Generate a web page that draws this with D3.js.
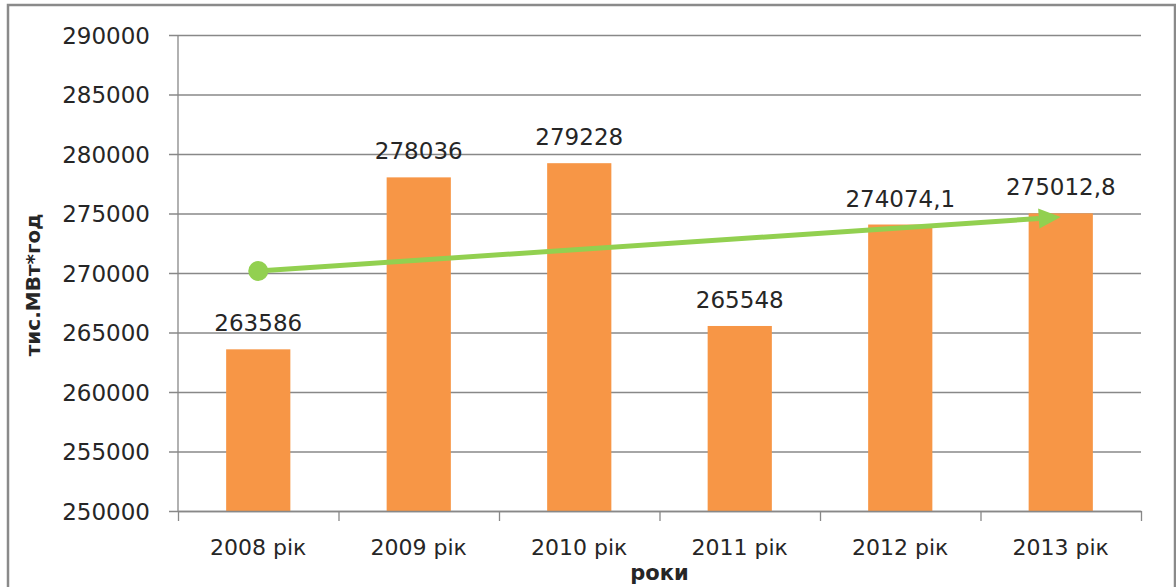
<!DOCTYPE html>
<html>
<head>
<meta charset="utf-8">
<script src="https://cdn.jsdelivr.net/npm/d3@7"></script>
<style>
  body { margin: 0; background: #fff; }
  text { font-family: "DejaVu Sans", sans-serif; fill: #262626; }
  .bar { fill: #F79646; }
  .grid line { stroke: #888; stroke-width: 1.3; }
</style>
</head>
<body>
<div id="graphic"></div>
<script>
var years = ["2008 рік", "2009 рік", "2010 рік", "2011 рік", "2012 рік", "2013 рік"];
var values = [263586, 278036, 279228, 265548, 274074.1, 275012.8];
var valueLabels = ["263586", "278036", "279228", "265548", "274074,1", "275012,8"];
var yTicks = [250000, 255000, 260000, 265000, 270000, 275000, 280000, 285000, 290000];
// hand drawn trend arrow
var trendYears = ["2008 рік", "2013 рік"];
var trendValues = [270170, 274700];

var width = 1176;
var height = 587;
var plotLeft = 178, plotRight = 1141, plotTop = 35, plotBottom = 511;

var svg = d3.select("#graphic")
  .append("svg")
  .attr("width", width)
  .attr("height", height);

var xScale = d3.scaleBand()
  .domain(years)
  .range([plotLeft, plotRight])
  .paddingInner(0.6)
  .paddingOuter(0.3);

var edgeScale = d3.scaleLinear()
  .domain([0, years.length])
  .range([plotLeft, plotRight]);

var yScale = d3.scaleLinear()
  .domain([250000, 290000])
  .range([plotBottom, plotTop]);

// outer frame
svg.append("rect")
  .attr("x", 8)
  .attr("y", 5)
  .attr("width", 1167)
  .attr("height", 600)
  .attr("fill", "none")
  .attr("stroke", "#8a8a8a")
  .attr("stroke-width", 2.5);

// grid + y labels
var yAxis = d3.axisLeft(yScale)
  .tickValues(yTicks)
  .tickSize(-(plotRight - plotLeft))
  .tickSizeOuter(0)
  .tickPadding(28)
  .tickFormat(d3.format("d"));

var gy = svg.append("g")
  .attr("class", "grid")
  .attr("transform", "translate(" + plotLeft + ",0)")
  .call(yAxis);
gy.select(".domain").remove();
gy.selectAll(".tick line").attr("x1", -9);
gy.selectAll(".tick text")
  .attr("font-size", 23)
  .attr("font-family", "DejaVu Sans")
  .attr("fill", "#262626")
  .attr("dy", "0.36em");

// y axis line
svg.append("line")
  .attr("x1", plotLeft).attr("x2", plotLeft)
  .attr("y1", plotTop).attr("y2", plotBottom)
  .attr("stroke", "#888").attr("stroke-width", 1.3);

// bars
svg.selectAll(".bar")
  .data(years)
  .enter()
  .append("rect")
  .attr("class", "bar")
  .attr("x", function(d) { return xScale(d); })
  .attr("width", xScale.bandwidth())
  .attr("y", function(d, i) { return yScale(values[i]); })
  .attr("height", function(d, i) { return plotBottom - yScale(values[i]); });

// x axis with ticks at band edges
var xAxis = d3.axisBottom(edgeScale)
  .tickValues(d3.range(years.length + 1))
  .tickSize(10)
  .tickSizeOuter(0)
  .tickFormat("");

var gx = svg.append("g")
  .attr("transform", "translate(0," + plotBottom + ")")
  .call(xAxis);
gx.select(".domain").attr("stroke", "#888").attr("stroke-width", 1.3);
gx.selectAll(".tick line").attr("stroke", "#888").attr("stroke-width", 1.3);

svg.selectAll(".xlabel")
  .data(years)
  .enter()
  .append("text")
  .attr("class", "xlabel")
  .attr("x", function(d) { return xScale(d) + xScale.bandwidth() / 2; })
  .attr("y", plotBottom + 44)
  .attr("text-anchor", "middle")
  .attr("font-size", 22)
  .text(function(d) { return d; });

// value labels
svg.selectAll(".vlabel")
  .data(years)
  .enter()
  .append("text")
  .attr("class", "vlabel")
  .attr("x", function(d) { return xScale(d) + xScale.bandwidth() / 2; })
  .attr("y", function(d, i) { return yScale(values[i]) - 18; })
  .attr("text-anchor", "middle")
  .attr("font-size", 23)
  .text(function(d, i) { return valueLabels[i]; });

// trend arrow
var tx = trendYears.map(function(d) { return xScale(d) + xScale.bandwidth() / 2; });
var ty = trendValues.map(function(d) { return yScale(d); });
var ang = Math.atan2(ty[1] - ty[0], tx[1] - tx[0]);
var headLen = 22, headHalf = 10;
var bx = tx[1] - headLen * Math.cos(ang), by = ty[1] - headLen * Math.sin(ang);

svg.append("line")
  .attr("x1", tx[0]).attr("y1", ty[0])
  .attr("x2", bx).attr("y2", by)
  .attr("stroke", "#92D050")
  .attr("stroke-width", 5);

svg.append("circle")
  .attr("cx", tx[0]).attr("cy", ty[0])
  .attr("r", 10)
  .attr("fill", "#92D050");

svg.append("path")
  .attr("d", d3.line()([
    [tx[1], ty[1]],
    [bx + headHalf * Math.sin(ang), by - headHalf * Math.cos(ang)],
    [bx - headHalf * Math.sin(ang), by + headHalf * Math.cos(ang)]
  ]) + "Z")
  .attr("fill", "#92D050");

// axis titles
svg.append("text")
  .attr("transform", "translate(40," + 285 + ") rotate(-90)")
  .attr("text-anchor", "middle")
  .attr("font-size", 20)
  .attr("font-weight", "bold")
  .text("тис.МВт*год");

svg.append("text")
  .attr("x", (plotLeft + plotRight) / 2)
  .attr("y", 580)
  .attr("text-anchor", "middle")
  .attr("font-size", 21)
  .attr("font-weight", "bold")
  .text("роки");
</script>
</body>
</html>
